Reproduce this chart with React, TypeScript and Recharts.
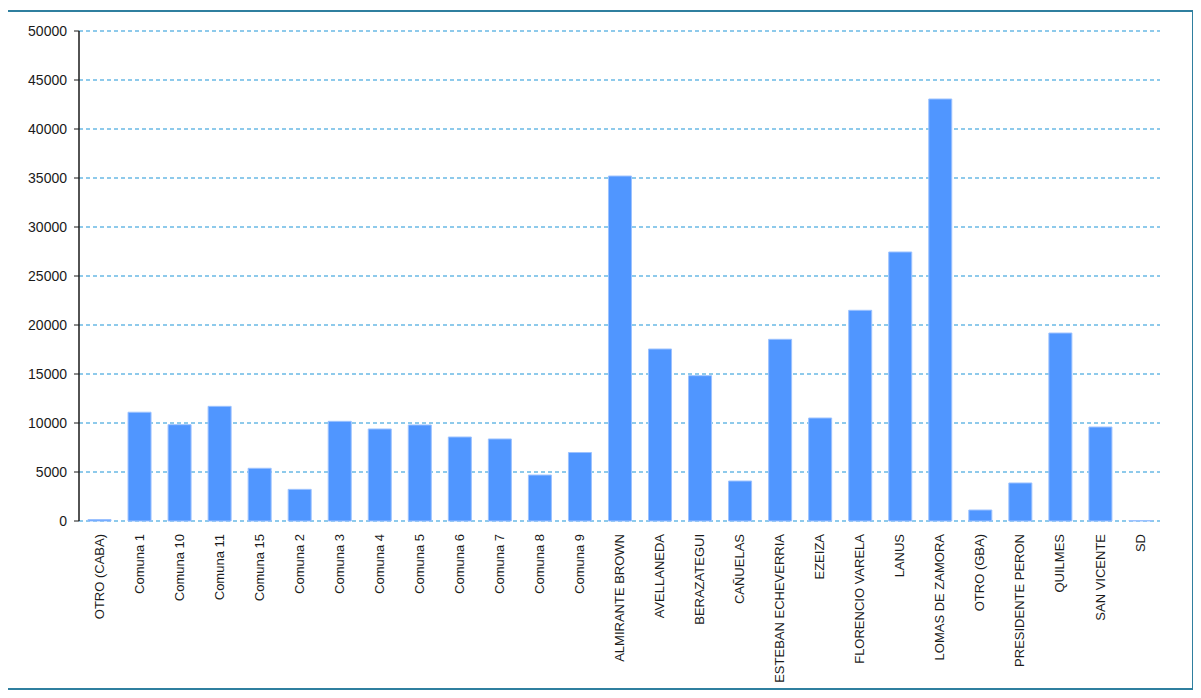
import React from 'react';
import { BarChart, Bar, XAxis, YAxis, CartesianGrid } from 'recharts';

const categories = [
  'OTRO (CABA)', 'Comuna 1', 'Comuna 10', 'Comuna 11', 'Comuna 15', 'Comuna 2', 'Comuna 3',
  'Comuna 4', 'Comuna 5', 'Comuna 6', 'Comuna 7', 'Comuna 8', 'Comuna 9', 'ALMIRANTE BROWN',
  'AVELLANEDA', 'BERAZATEGUI', 'CAÑUELAS', 'ESTEBAN ECHEVERRIA', 'EZEIZA', 'FLORENCIO VARELA',
  'LANUS', 'LOMAS DE ZAMORA', 'OTRO (GBA)', 'PRESIDENTE PERON', 'QUILMES', 'SAN VICENTE', 'SD',
];

const values = [
  150, 11100, 9830, 11700, 5380, 3230, 10170,
  9390, 9800, 8570, 8370, 4690, 6990, 35200,
  17550, 14830, 4080, 18540, 10510, 21500,
  27450, 43060, 1120, 3880, 19180, 9590, 50,
];

const yTicks = [0, 5000, 10000, 15000, 20000, 25000, 30000, 35000, 40000, 45000, 50000];

const data = categories.map((name, i) => ({ name, value: values[i] }));

const FONT = '"Liberation Sans", Arial, sans-serif';

const CategoryTick = (props: any) => {
  const { x, y, payload } = props;
  return (
    <g transform={`translate(${x},${y})`}>
      <text
        transform="rotate(-90)"
        x={-11}
        y={0}
        dy="0.35em"
        textAnchor="end"
        fill="#1a1a1a"
        fontSize={13}
        fontFamily={FONT}
      >
        {payload.value}
      </text>
    </g>
  );
};

export default function App() {
  return (
    <div
      style={{
        marginLeft: -2,
        marginTop: 2,
        width: 1188,
        height: 680,
        border: '2px solid #2f7f9f',
        boxSizing: 'border-box',
        background: '#fff',
      }}
    >
      <BarChart
        width={1184}
        height={676}
        data={data}
        margin={{ top: 19, right: 32, left: 0, bottom: 0 }}
        barSize={23}
      >
        <CartesianGrid
          vertical={false}
          stroke="#1e96d8"
          strokeWidth={1.2}
          strokeDasharray="4 3"
          horizontalValues={yTicks}
        />
        <XAxis
          dataKey="name"
          interval={0}
          height={167}
          axisLine={false}
          tickLine={false}
          tickSize={0}
          tick={<CategoryTick />}
        />
        <YAxis
          width={71}
          domain={[0, 50000]}
          ticks={yTicks}
          interval={0}
          axisLine={{ stroke: '#1a1a1a', strokeWidth: 1.5 }}
          tickLine={{ stroke: '#1a1a1a' }}
          tickSize={5}
          tickMargin={7}
          tick={{ fill: '#1a1a1a', fontSize: 14, fontFamily: FONT }}
        />
        <Bar dataKey="value" fill="#5096ff" stroke="#9cc2ff" strokeWidth={1} isAnimationActive={false} />
      </BarChart>
    </div>
  );
}
